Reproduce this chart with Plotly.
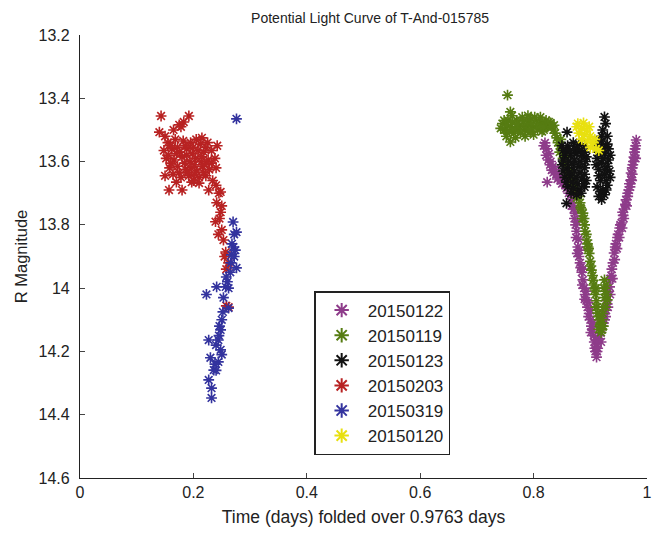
import plotly.graph_objects as go

labels = ["20150122", "20150119", "20150123", "20150203", "20150319", "20150120"]
colors = ["#8e3c8a", "#567c12", "#111111", "#b82222", "#33339e", "#e8e010"]

# 20150122 (magenta)
mag_x = [0.820,0.823,0.826,0.829,0.832,0.824,0.840,0.848,0.856,0.864,0.868,0.873,0.876,0.878,0.882,0.887,0.891,0.895,0.900,0.904,0.907,0.911,0.909,0.914,0.911,0.918,0.925,0.930,0.934,0.938,0.942,0.948,0.955,0.960,0.963,0.968,0.972,0.972,0.975,0.977,0.979,0.981,0.880,0.885,0.893,0.898,0.902,0.945,0.952,0.958,0.928,0.921,0.936,0.966,0.870,0.874,0.835,0.844,0.852,0.860,
         0.818,0.822,0.827,0.830,0.834,0.838,0.842,0.846,0.850,0.854,0.858,0.862,0.866,0.867,0.871,0.872,0.877,0.875,0.879,0.877,0.881,0.883,0.886,0.886,0.889,0.890,0.893,0.896,0.897,0.900,0.901,0.905,0.906,0.908,0.910,0.912,
         0.913,0.916,0.919,0.920,0.923,0.924,0.927,0.929,0.931,0.932,0.935,0.937,0.939,0.940,0.943,0.944,0.947,0.949,0.951,0.953,0.956,0.957,0.959,0.962,0.964,0.966,0.969,0.970,0.974,0.974,0.976,0.978,0.980,0.980,0.973]
mag_y = [13.541,13.560,13.595,13.610,13.627,13.665,13.640,13.660,13.675,13.690,13.720,13.763,13.820,13.870,13.920,13.974,14.020,14.060,14.100,14.132,14.170,14.218,14.200,14.160,14.186,14.140,14.100,14.050,13.996,13.940,13.889,13.840,13.794,13.750,13.721,13.690,13.658,13.636,13.610,13.586,13.560,13.532,13.900,13.950,14.040,14.080,14.120,13.860,13.810,13.770,14.070,14.120,13.970,13.700,13.740,13.800,13.635,13.650,13.668,13.680,
         13.550,13.580,13.575,13.600,13.615,13.625,13.655,13.645,13.670,13.660,13.685,13.700,13.705,13.740,13.750,13.780,13.790,13.840,13.845,13.890,13.880,13.935,13.940,13.990,14.000,14.035,14.010,14.045,14.090,14.070,14.140,14.110,14.150,14.190,14.165,14.200,
         14.190,14.150,14.170,14.130,14.110,14.080,14.090,14.040,14.060,14.010,14.020,13.960,13.970,13.920,13.910,13.870,13.875,13.830,13.840,13.800,13.810,13.760,13.780,13.735,13.740,13.710,13.670,13.680,13.640,13.620,13.600,13.570,13.550,13.590,13.660]

# 20150119 (green)
grn_x = [0.754,0.759,0.759,0.745,0.750,0.755,0.760,0.765,0.770,0.775,0.780,0.785,0.790,0.795,0.800,0.805,0.810,0.815,0.820,0.825,0.830,0.752,0.768,0.785,0.800,0.815,0.762,0.790,0.812,0.835,0.841,0.846,0.846,0.852,0.858,0.862,0.866,0.870,0.878,0.882,0.887,0.890,0.894,0.898,0.902,0.905,0.908,0.911,0.913,0.916,0.920,0.918,0.922,0.925,0.928,0.925,0.930,0.927,0.884,0.896,0.910,0.748,0.772,0.795,0.818,
         0.742,0.748,0.753,0.758,0.763,0.767,0.772,0.777,0.782,0.787,0.792,0.797,0.802,0.807,0.813,0.817,0.822,0.827,0.832,0.836,0.838,0.843,0.848,0.850,0.855,0.856,0.860,0.864,0.868,0.873,0.876,0.880,0.883,0.886,0.889,0.891,0.893,0.895,0.897,0.900,0.901,0.904,0.906,0.909,0.910,0.912,0.914,0.917,0.919,0.915,0.921,0.923,0.924,0.926,0.929,0.923]
grn_y = [13.390,13.443,13.538,13.480,13.500,13.470,13.490,13.510,13.470,13.490,13.460,13.500,13.480,13.465,13.490,13.470,13.485,13.475,13.480,13.490,13.478,13.520,13.525,13.520,13.515,13.505,13.455,13.455,13.460,13.500,13.525,13.550,13.570,13.590,13.610,13.630,13.650,13.670,13.700,13.730,13.763,13.800,13.848,13.890,13.943,13.975,14.006,14.040,14.079,14.100,14.132,14.115,14.080,14.030,13.990,13.974,14.037,14.060,13.750,13.870,14.000,13.500,13.500,13.505,13.500,
         13.495,13.470,13.485,13.505,13.475,13.495,13.480,13.510,13.475,13.485,13.500,13.480,13.460,13.500,13.490,13.490,13.470,13.475,13.490,13.485,13.510,13.540,13.530,13.565,13.585,13.600,13.620,13.640,13.660,13.685,13.715,13.710,13.745,13.780,13.780,13.820,13.830,13.860,13.875,13.915,13.930,13.960,13.990,14.020,14.060,14.060,14.090,14.120,14.140,14.130,14.100,14.060,14.000,14.010,14.020,14.120]

# 20150123 (black)
blk_x = [0.859,0.858,0.850,0.860,0.870,0.880,0.890,0.855,0.865,0.875,0.885,0.893,0.850,0.860,0.870,0.880,0.890,0.855,0.865,0.875,0.885,0.893,0.860,0.870,0.880,0.890,0.925,0.922,0.910,0.920,0.930,0.915,0.925,0.935,0.910,0.920,0.930,0.915,0.925,0.935,0.912,0.922,0.930,0.920,0.915,0.925,
         0.852,0.858,0.864,0.872,0.878,0.884,0.890,0.852,0.862,0.872,0.882,0.892,0.852,0.862,0.872,0.882,0.890,0.858,0.868,0.878,0.888,0.866,0.876,0.884,
         0.912,0.922,0.932,0.912,0.922,0.932,0.915,0.925,0.934,0.918,0.928,0.918,0.928,0.927,0.920,0.930]
blk_y = [13.507,13.732,13.550,13.550,13.540,13.545,13.550,13.580,13.580,13.575,13.580,13.585,13.610,13.620,13.610,13.615,13.620,13.650,13.645,13.650,13.655,13.660,13.680,13.685,13.690,13.680,13.459,13.500,13.540,13.535,13.545,13.570,13.575,13.580,13.610,13.605,13.615,13.645,13.640,13.650,13.680,13.690,13.675,13.720,13.710,13.705,
         13.565,13.565,13.565,13.560,13.560,13.565,13.570,13.595,13.600,13.595,13.600,13.600,13.630,13.635,13.630,13.635,13.640,13.665,13.665,13.670,13.670,13.700,13.705,13.700,
         13.555,13.555,13.560,13.590,13.590,13.595,13.625,13.625,13.630,13.660,13.660,13.695,13.690,13.480,13.520,13.520]

# 20150203 (red)
red_x = [0.143,0.192,0.175,0.183,0.140,0.150,0.165,0.178,0.155,0.168,0.182,0.195,0.205,0.215,0.225,0.148,0.162,0.176,0.188,0.198,0.208,0.218,0.232,0.242,0.152,0.166,0.180,0.194,0.204,0.214,0.226,0.238,0.158,0.172,0.186,0.196,0.206,0.216,0.228,0.240,0.150,0.164,0.178,0.192,0.210,0.222,0.234,0.157,0.180,0.227,0.240,0.170,0.200,0.197,0.210,0.245,0.248,0.241,0.250,0.248,0.239,0.246,0.250,0.244,0.253,0.257,0.255,0.262,0.258,0.258,0.262,
         0.160,0.172,0.186,0.200,0.212,0.222,0.156,0.170,0.184,0.202,0.220,0.232,0.160,0.175,0.190,0.202,0.218,0.188,0.215]
red_y = [13.456,13.456,13.484,13.475,13.507,13.520,13.500,13.490,13.540,13.530,13.535,13.540,13.530,13.525,13.540,13.565,13.560,13.570,13.560,13.575,13.565,13.570,13.565,13.550,13.590,13.595,13.585,13.600,13.590,13.600,13.595,13.590,13.620,13.615,13.625,13.620,13.630,13.615,13.625,13.620,13.645,13.640,13.650,13.645,13.650,13.645,13.660,13.690,13.690,13.690,13.675,13.665,13.660,13.665,13.668,13.700,13.696,13.730,13.740,13.760,13.790,13.780,13.816,13.830,13.848,13.886,13.900,13.920,13.940,14.056,14.060,
         13.550,13.555,13.550,13.555,13.545,13.555,13.580,13.575,13.605,13.610,13.610,13.605,13.605,13.635,13.635,13.640,13.635,13.580,13.585]

# 20150319 (blue)
blu_x = [0.276,0.270,0.276,0.272,0.270,0.274,0.267,0.272,0.276,0.258,0.265,0.257,0.241,0.223,0.253,0.262,0.250,0.248,0.244,0.227,0.248,0.240,0.230,0.244,0.236,0.227,0.232,0.232,0.245,0.250,0.240,0.252,0.266,0.262,0.268,0.260,0.246,0.238]
blu_y = [13.465,13.791,13.823,13.830,13.870,13.880,13.895,13.900,13.936,13.965,13.950,13.996,13.996,14.020,14.030,14.063,14.100,14.132,14.164,14.164,14.195,14.180,14.220,14.233,14.259,14.290,14.316,14.347,14.150,14.210,14.260,14.075,13.920,14.000,13.860,13.980,14.120,14.240]

# 20150120 (yellow)
yel_x = [0.876,0.885,0.893,0.880,0.890,0.900,0.885,0.895,0.905,0.900,0.910,0.915,0.878,0.888,0.898,0.908]
yel_y = [13.490,13.495,13.500,13.510,13.515,13.520,13.530,13.535,13.540,13.555,13.560,13.565,13.480,13.478,13.490,13.530]

xs = [mag_x, grn_x, blk_x, red_x, blu_x, yel_x]
ys = [mag_y, grn_y, blk_y, red_y, blu_y, yel_y]

x_ticks = [0, 0.2, 0.4, 0.6, 0.8, 1]
y_ticks = [13.2, 13.4, 13.6, 13.8, 14, 14.2, 14.4, 14.6]

fig = go.Figure()
for i, lab in enumerate(labels):
    fig.add_trace(go.Scatter(
        x=xs[i], y=ys[i], mode="markers", name=lab,
        marker=dict(symbol="asterisk-open", size=9, color=colors[i],
                    line=dict(color=colors[i], width=1.6)),
    ))

FONT = "Liberation Sans, Arial, sans-serif"
fig.update_layout(
    width=655, height=537,
    margin=dict(l=80, r=3, t=35, b=59),
    paper_bgcolor="white", plot_bgcolor="white",
    font=dict(family=FONT, size=13, color="#222"),
    title=dict(text="Potential Light Curve of T-And-015785", x=0.565, xanchor="center",
               y=0.966, yanchor="middle", font=dict(size=14, family=FONT, color="#222")),
    showlegend=True,
    legend=dict(x=0.413, y=0.422, xanchor="left", yanchor="top",
                bordercolor="#222", borderwidth=1.5, bgcolor="white",
                font=dict(size=17, family=FONT, color="#222"),
                traceorder="normal", itemsizing="constant", itemwidth=42),
)
fig.update_xaxes(range=[0, 1], tickvals=x_ticks, ticks="inside", ticklen=5,
                 showline=True, linecolor="#222", linewidth=1.2, mirror=False,
                 showgrid=False, zeroline=False, ticklabeloverflow="allow",
                 title=dict(text="Time (days) folded over 0.9763 days", standoff=10,
                            font=dict(size=17.5)),
                 tickfont=dict(size=16))
fig.update_yaxes(range=[14.6, 13.2], tickvals=y_ticks, ticks="inside", ticklen=5,
                 showline=True, linecolor="#222", linewidth=1.2, mirror=False,
                 showgrid=False, zeroline=False, ticklabelstandoff=6,
                 title=dict(text="R Magnitude", standoff=6, font=dict(size=16.5)),
                 tickfont=dict(size=16))

fig.write_html("out.html")
